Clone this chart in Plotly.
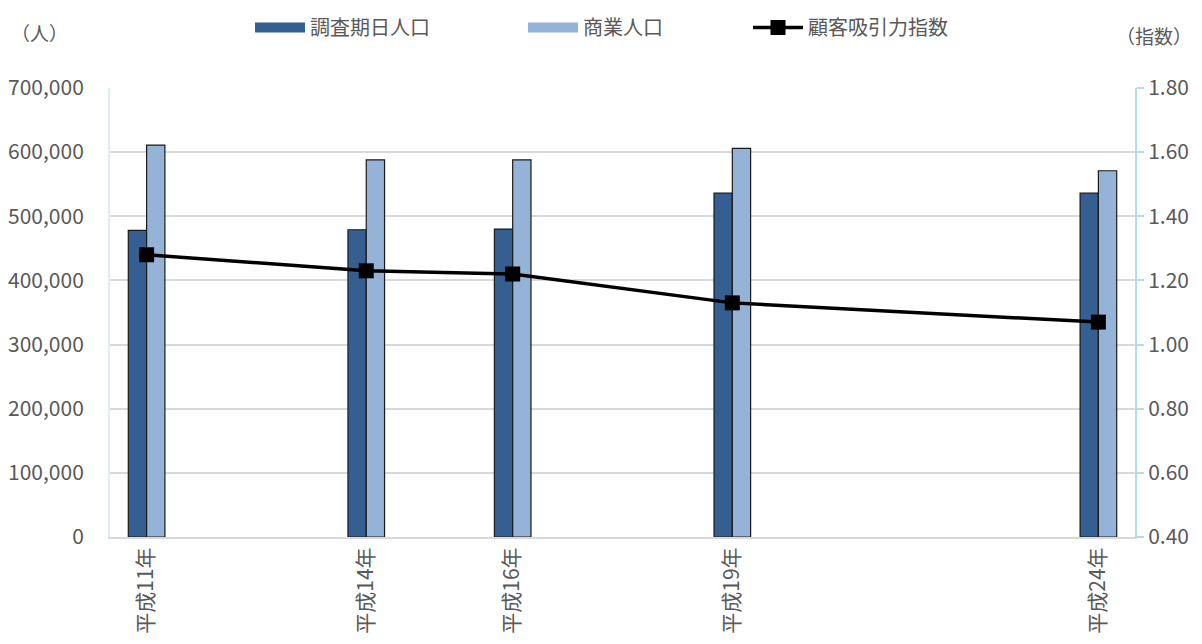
import plotly.graph_objects as go

years = [11, 14, 16, 19, 24]
year_labels = ["平成11年", "平成14年", "平成16年", "平成19年", "平成24年"]
resident_pop = [478000, 479000, 480000, 536000, 536000]
commercial_pop = [611000, 588000, 588000, 606000, 571000]
attraction_index = [1.28, 1.23, 1.22, 1.13, 1.07]

FONT = "Noto Sans CJK JP"
GRAY = "#595959"
AXBLUE = "#b4dce8"
DARK = "#355f91"
LIGHT = "#95b3d7"

fig = go.Figure()
fig.add_trace(go.Bar(
    x=years, y=resident_pop, name="調査期日人口", showlegend=False,
    width=0.25, offset=-0.25,
    marker=dict(color=DARK, line=dict(color="#1a1a1a", width=1.2)),
))
fig.add_trace(go.Bar(
    x=years, y=commercial_pop, name="商業人口", showlegend=False,
    width=0.25, offset=0,
    marker=dict(color=LIGHT, line=dict(color="#1a1a1a", width=1.2)),
))
fig.add_trace(go.Scatter(
    x=years, y=attraction_index, name="顧客吸引力指数", yaxis="y2",
    mode="lines+markers", legend="legend3",
    line=dict(color="black", width=3.5),
    marker=dict(symbol="square", size=15, color="black"),
))
# legend swatches for the bar series
fig.add_trace(go.Scatter(
    x=[None], y=[None], name="調査期日人口", mode="lines", legend="legend",
    line=dict(color=DARK, width=13),
))
fig.add_trace(go.Scatter(
    x=[None], y=[None], name="商業人口", mode="lines", legend="legend2",
    line=dict(color=LIGHT, width=13),
))

W = 1025.0
H = 449.0
def px_x(p):
    return (p - 110) / W
def px_y(p):
    return 1 + (88 - p) / H

leg_common = dict(orientation="h", yanchor="top", xanchor="left",
                  font=dict(size=20, color=GRAY, family=FONT), itemwidth=50,
                  bgcolor="rgba(0,0,0,0)")

fig.update_layout(
    width=1202, height=644,
    barmode="overlay",
    paper_bgcolor="white", plot_bgcolor="white",
    margin=dict(l=102, r=75, t=80, b=115, autoexpand=False),
    font=dict(family=FONT, size=21, color=GRAY),
    showlegend=True,
    legend=dict(x=px_x(250), y=px_y(8), **leg_common),
    legend2=dict(x=px_x(523), y=px_y(8), **leg_common),
    legend3=dict(x=px_x(748), y=px_y(8), **leg_common),
    xaxis=dict(
        range=[10.5, 24.5],
        tickmode="array", tickvals=years, ticktext=year_labels,
        tickangle=-90, showgrid=False, zeroline=False,
        showline=True, linecolor="#d9d9d9", linewidth=2,
        ticks="", tickfont=dict(size=21, color=GRAY),
    ),
    yaxis=dict(
        range=[0, 700000], dtick=100000, tickformat=",",
        showgrid=True, gridcolor="#d9d9d9", gridwidth=2,
        zeroline=False, showline=True, linecolor="#ddeef4", linewidth=2,
        ticks="", tickfont=dict(size=21, color=GRAY),
        ticklabelstandoff=20,
    ),
    yaxis2=dict(
        overlaying="y", side="right",
        range=[0.4, 1.8], dtick=0.2, tickformat=".2f",
        showgrid=False, zeroline=False,
        showline=True, linecolor=AXBLUE, linewidth=2,
        ticks="outside", ticklen=7, tickcolor=AXBLUE, tickwidth=2,
        tickfont=dict(size=21, color=GRAY),
    ),
    annotations=[
        dict(text="（人）", xref="paper", yref="paper", x=px_x(9), y=px_y(32),
             xanchor="left", yanchor="middle", showarrow=False,
             font=dict(size=19, color=GRAY, family=FONT)),
        dict(text="（指数）", xref="paper", yref="paper", x=px_x(1194), y=px_y(35),
             xanchor="right", yanchor="middle", showarrow=False,
             font=dict(size=19, color=GRAY, family=FONT)),
    ],
)

fig.write_html("out.html")
